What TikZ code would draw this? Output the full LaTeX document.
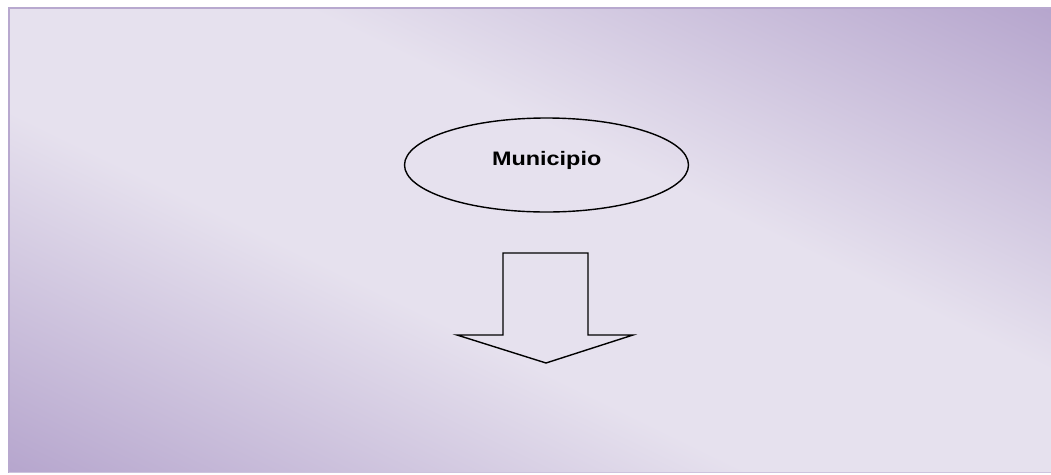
\documentclass[tikz,border=0pt]{standalone}
\usepackage{fontspec}
\newfontfamily\lsans{Liberation Sans}
\usetikzlibrary{shapes.geometric}
\definecolor{pD}{HTML}{AE9CC8}
\definecolor{pL}{HTML}{E6E1EE}
\definecolor{pB}{HTML}{B8A9CF}
\pgfdeclareverticalshading{bgsh}{100bp}{color(0bp)=(pD); color(28bp)=(pD); color(45bp)=(pL); color(55bp)=(pL); color(72bp)=(pD); color(100bp)=(pD)}
\tikzset{
  outline/.style={draw=black, line width=1.4pt},
  labeltext/.style={font=\lsans\bfseries\fontsize{19.5}{22}\selectfont, inner sep=0pt}
}
\begin{document}
\begin{tikzpicture}[x=1pt,y=-1pt]
\useasboundingbox[fill=white] (0,0) rectangle (1051,474);
\begin{scope}
  \clip (8,7) rectangle (1060,472);
  \shade[shading=bgsh, shading angle=-26] (-31,-320) rectangle (1089,800);
\end{scope}
\draw[pB, line width=2pt] (8.5,472) -- (8.5,7.5) -- (1060,7.5);
\draw[pB!70, line width=0.8pt] (8.5,472.4) -- (1060,472.4);
\node[outline, ellipse, minimum width=284pt, minimum height=94pt, inner sep=0pt] (muni) at (546.5,165) {};
\node[labeltext, anchor=base] (munitext) at (546.7,165.7) {\scalebox{1.2}[1]{Municipio}};
\draw[outline, line join=miter] (503,253) -- (588,253) -- (588,335) -- (633,335) -- (546,363) -- (457,335) -- (503,335) -- cycle;
\end{tikzpicture}
\end{document}
